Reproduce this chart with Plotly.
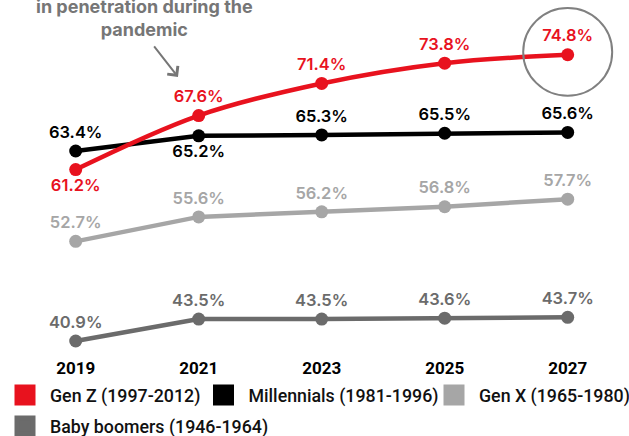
import plotly.graph_objects as go

years = [2019, 2021, 2023, 2025, 2027]
gen_z = [61.2, 67.6, 71.4, 73.8, 74.8]
millennials = [63.4, 65.2, 65.3, 65.5, 65.6]
gen_x = [52.7, 55.6, 56.2, 56.8, 57.7]
boomers = [40.9, 43.5, 43.5, 43.6, 43.7]

names = ["Gen Z (1997-2012)", "Millennials (1981-1996)", "Gen X (1965-1980)", "Baby boomers (1946-1964)"]
colors = ["#e8121e", "#000000", "#a6a6a6", "#6b6b6b"]
positions = [
    ["bottom center", "top center", "top center", "top center", "top center"],
    ["top center", "bottom center", "top center", "top center", "top center"],
    ["top center"] * 5,
    ["top center"] * 5,
]
series = [gen_z, millennials, gen_x, boomers]

fig = go.Figure()
label_font = dict(family="Inter", size=16.5, weight=600)

# draw order: boomers, gen x, millennials, gen z (on top)
for i in [3, 2, 1, 0]:
    vals = series[i]
    fig.add_trace(go.Scatter(
        x=years, y=vals, mode="lines+markers+text",
        line=dict(color=colors[i], width=4.5, shape="spline" if i == 0 else "linear", smoothing=1),
        marker=dict(color=colors[i], size=13),
        text=[f"{v:.1f}%" for v in vals],
        textposition=positions[i],
        textfont=dict(color=colors[i], **label_font),
        cliponaxis=False, showlegend=False, hoverinfo="skip",
    ))

# legend entries (one legend each for exact placement)
legend_ids = ["legend", "legend2", "legend3", "legend4"]
for i in range(4):
    fig.add_trace(go.Scatter(
        x=[None], y=[None], mode="markers", name=names[i],
        marker=dict(symbol="square", size=16, color=colors[i], line=dict(color=colors[i], width=5)),
        legend=legend_ids[i], showlegend=True,
    ))

W, H = 629, 436
plot_h = 352
def px_x(p):
    return p / W
def px_y(p):
    return (plot_h - p) / plot_h

leg_common = dict(xanchor="left", yanchor="middle", bgcolor="rgba(0,0,0,0)", borderwidth=0,
                  font=dict(family="Roboto", size=17.8, weight=500, color="#111111"),
                  itemwidth=40, itemsizing="trace", orientation="h")
leg_pos = [(0, 395.5), (198.5, 395.5), (429, 395.5), (0, 426.5)]
layout_legends = {}
for lid, (lx, ly) in zip(legend_ids, leg_pos):
    layout_legends[lid] = dict(x=px_x(lx), y=px_y(ly), **leg_common)

fig.update_layout(
    width=W, height=H,
    margin=dict(l=0, r=0, t=0, b=H - plot_h, pad=0, autoexpand=False),
    paper_bgcolor="white", plot_bgcolor="white",
    xaxis=dict(range=[2017.769, 2027.997], tickvals=years, ticktext=[str(y) for y in years],
               showgrid=False, zeroline=False, showline=False, ticks="", automargin=False,
               ticklabelstandoff=4,
               tickfont=dict(family="Roboto", size=17, weight=700, color="#000000")),
    yaxis=dict(range=[39.60, 81.28], visible=False, showgrid=False, zeroline=False, automargin=False),
    **layout_legends,
)

# annotation text with arrow
fig.add_annotation(
    x=2020.12, y=76.25, xref="x", yref="y",
    text="in penetration during the<br>pandemic",
    showarrow=False, yanchor="bottom", xanchor="center",
    font=dict(family="Inter", size=18, weight=700, color="#767676"),
)
fig.add_annotation(
    x=2020.663, y=72.17, xref="x", yref="y", text="",
    showarrow=True, ax=-25, ay=-32, axref="pixel", ayref="pixel",
    arrowhead=4, arrowsize=1.3, arrowwidth=2, arrowcolor="#767676",
)

# circle highlighting 2027 Gen Z value
fig.add_shape(
    type="circle", xref="x", yref="y", xsizemode="pixel", ysizemode="pixel",
    xanchor=years[-1], yanchor=gen_z[-1],
    x0=-44.5, x1=44.5, y0=-41, y1=46.7,
    line=dict(color="#808080", width=2),
)

fig.write_html("out.html")
